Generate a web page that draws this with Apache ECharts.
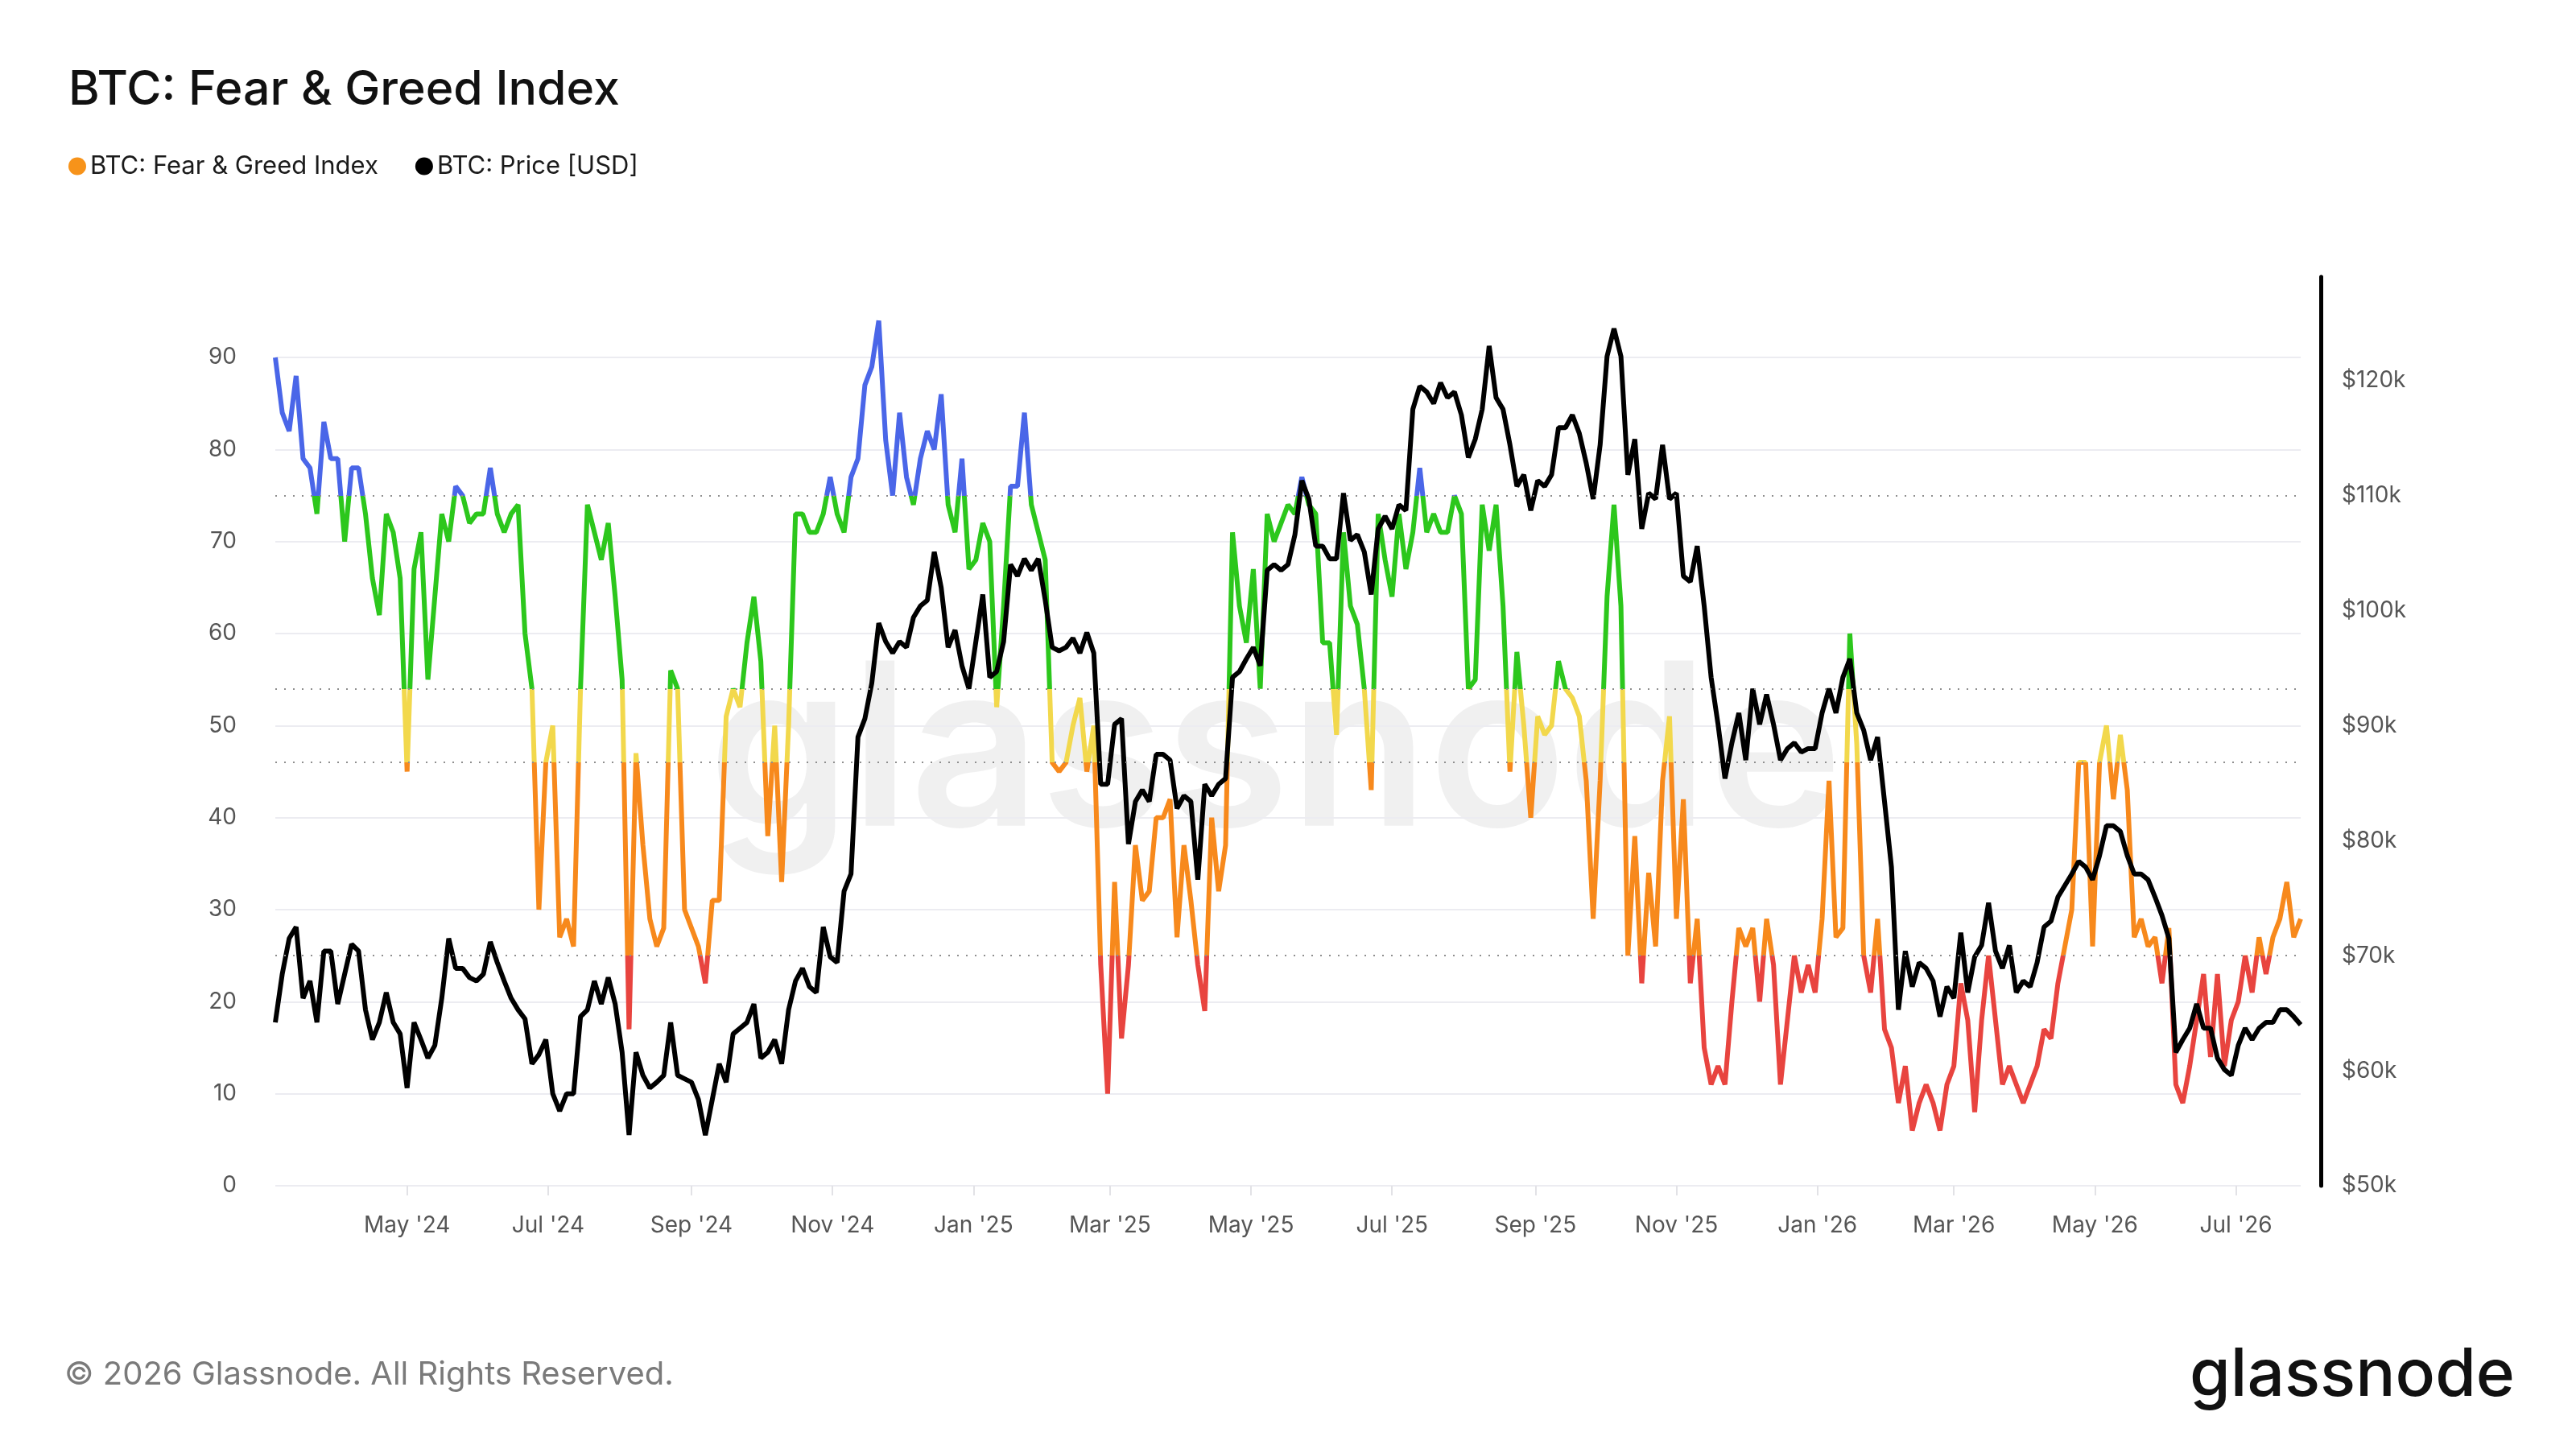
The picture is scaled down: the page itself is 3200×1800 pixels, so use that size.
<!DOCTYPE html>
<html>
<head>
<meta charset="utf-8">
<title>BTC: Fear & Greed Index</title>
<script src="https://cdn.jsdelivr.net/npm/echarts@6/dist/echarts.min.js"></script>
<style>
  html, body { margin: 0; padding: 0; background: #fff; }
  #chart { width: 3200px; height: 1800px; }
</style>
</head>
<body>
<div id="chart"></div>
<script>
// samples every 3 days starting 2024-03-05
const startDate = "2024-03-05";
const stepDays = 3;

// BTC Fear & Greed Index (0-100)
const fearGreed = [
  90, 84, 82, 88, 79, 78, 73, 83, 79, 79, 70, 78, 78, 73, 66, 62, 73, 71, 66, 45,
  67, 71, 55, 64, 73, 70, 76, 75, 72, 73, 73, 78, 73, 71, 73, 74, 60, 54, 30, 46,
  50, 27, 29, 26, 54, 74, 71, 68, 72, 64, 55, 17, 47, 37, 29, 26, 28, 56, 54, 30,
  28, 26, 22, 31, 31, 51, 54, 52, 59, 64, 57, 38, 50, 33, 50, 73, 73, 71, 71, 73,
  77, 73, 71, 77, 79, 87, 89, 94, 81, 75, 84, 77, 74, 79, 82, 80, 86, 74, 71, 79,
  67, 68, 72, 70, 52, 63, 76, 76, 84, 74, 71, 68, 46, 45, 46, 50, 53, 45, 50,
  24, 10, 33, 16, 24, 37, 31, 32, 40, 40, 42, 27, 37, 31, 24, 19, 40, 32, 37, 71,
  63, 59, 67, 54, 73, 70, 72, 74, 73, 77, 74, 73, 59, 59, 49, 71, 63, 61, 54, 43,
  73, 68, 64, 73, 67, 71, 78, 71, 73, 71, 71, 75, 73, 54, 55, 74, 69, 74,
  63, 45, 58, 50, 40, 51, 49, 50, 57, 54, 53, 51, 44, 29, 44, 64, 74, 63, 25, 38,
  22, 34, 26, 44, 51, 29, 42, 22, 29, 15, 11, 13, 11, 20, 28, 26, 28, 20, 29, 24,
  11, 18, 25, 21, 24, 21, 29, 44, 27, 28, 60, 48, 25, 21, 29, 17, 15, 9, 13, 6,
  9, 11, 9, 6, 11, 13, 22, 18, 8, 18, 25, 18, 11, 13, 11, 9, 11, 13, 17, 16,
  22, 26, 30, 46, 46, 26, 46, 50, 42, 49, 43, 27, 29, 26, 27, 22, 28, 11, 9, 13,
  18, 23, 14, 23, 13, 18, 20, 25, 21, 27, 23, 27, 29, 33, 27, 29
];

// BTC price, thousands of USD
const priceK = [
  64.2, 68.4, 71.5, 72.5, 66.3, 67.8, 64.2, 70.4, 70.4, 65.8, 68.4, 71.0, 70.4, 65.3, 62.7, 64.2, 66.8, 64.2, 63.2, 58.5,
  64.2, 62.7, 61.1, 62.2, 66.3, 71.5, 68.9, 68.9, 68.1, 67.8, 68.4, 71.2, 69.4, 67.8, 66.3, 65.3, 64.5, 60.6, 61.4, 62.7,
  58.0, 56.5, 58.0, 58.0, 64.7, 65.3, 67.8, 65.8, 68.1, 65.8, 61.6, 54.4, 61.6, 59.6, 58.5, 59.0, 59.6, 64.2, 59.6, 59.3,
  59.0, 57.5, 54.4, 57.5, 60.6, 59.0, 63.2, 63.7, 64.2, 65.8, 61.1, 61.6, 62.7, 60.6, 65.3, 67.8, 68.9, 67.3, 66.8, 72.5,
  69.9, 69.4, 75.6, 77.1, 89.0, 90.6, 93.7, 98.9, 97.3, 96.3, 97.3, 96.8, 99.4, 100.4, 100.9, 105.1, 102.0, 96.8, 98.3, 95.2,
  93.2, 97.3, 101.4, 94.2, 94.7, 97.3, 104.0, 103.0, 104.5, 103.5, 104.5, 100.9, 96.8, 96.5, 96.8, 97.6, 96.3, 98.1, 96.3,
  84.9, 84.9, 90.1, 90.6, 79.7, 83.4, 84.4, 83.4, 87.5, 87.5, 87.0, 82.8, 83.9, 83.4, 76.6, 84.9, 83.9, 84.9, 85.4, 94.2,
  94.7, 95.8, 96.8, 95.2, 103.5, 104.0, 103.5, 104.0, 106.6, 111.3, 109.7, 105.6, 105.6, 104.5, 104.5, 110.2, 106.1, 106.6, 105.1, 101.4,
  107.1, 108.2, 107.1, 109.2, 108.7, 117.5, 119.5, 119.0, 118.0, 119.8, 118.5, 119.0, 117.0, 113.3, 114.9, 117.5, 123.0, 118.5,
  117.5, 114.4, 110.8, 111.8, 108.7, 111.3, 110.8, 111.8, 115.9, 115.9, 117.0, 115.4, 112.8, 109.7, 114.4, 122.1, 124.5, 122.1, 111.8, 114.9,
  107.1, 110.2, 109.7, 114.4, 109.7, 110.2, 103.0, 102.5, 105.6, 100.4, 94.2, 90.1, 85.4, 88.5, 91.1, 87.0, 93.2, 90.1, 92.7, 90.1,
  87.0, 88.0, 88.5, 87.7, 88.0, 88.0, 91.1, 93.2, 91.1, 94.2, 95.8, 91.1, 89.6, 87.0, 89.0, 83.4, 77.7, 65.3, 70.4, 67.3,
  69.4, 68.9, 67.8, 64.7, 67.3, 66.3, 72.0, 66.8, 69.9, 70.9, 74.6, 70.4, 68.9, 70.9, 66.8, 67.8, 67.3, 69.4, 72.5, 73.0,
  75.1, 76.1, 77.1, 78.2, 77.7, 76.6, 78.7, 81.3, 81.3, 80.8, 78.7, 77.1, 77.1, 76.6, 75.1, 73.5, 71.5, 61.6, 62.7, 63.7,
  65.8, 63.7, 63.7, 61.1, 60.1, 59.6, 62.2, 63.7, 62.7, 63.7, 64.2, 64.2, 65.3, 65.3, 64.7, 64.0
];

// x-axis tick labels (month starts)
const monthTicks = [
  "2024-05-01", "2024-07-01", "2024-09-01", "2024-11-01",
  "2025-01-01", "2025-03-01", "2025-05-01", "2025-07-01",
  "2025-09-01", "2025-11-01", "2026-01-01", "2026-03-01",
  "2026-05-01", "2026-07-01"
];
const monthNames = ["Jan", "Feb", "Mar", "Apr", "May", "Jun", "Jul", "Aug", "Sep", "Oct", "Nov", "Dec"];

// sentiment zone boundaries (dotted lines)
const zoneLines = [25, 46, 54, 75];
const zoneColors = {
  extremeFear: "#e8443f",
  fear: "#f7891c",
  neutral: "#f2d84c",
  greed: "#2cc71c",
  extremeGreed: "#4a66e8",
};

const DAY = 86400000;
const t0 = Date.parse(startDate);
const dates = fearGreed.map((_, i) => t0 + i * stepDays * DAY);
const fgData = dates.map((t, i) => [t, fearGreed[i]]);
const priceData = dates.map((t, i) => [t, priceK[i]]);
const tickValues = monthTicks.map((s) => Date.parse(s));

const FONT = "Inter, 'Noto Sans', sans-serif";
const chart = echarts.init(document.getElementById("chart"));

const gridColor = "#ececf1";
// 10 gridlines plus the extent end tick at the top (hidden)
const splitColors = [];
for (let i = 0; i < 10; i++) splitColors.push(gridColor);
splitColors.push("rgba(0,0,0,0)");

const option = {
  animation: false,
  backgroundColor: "#ffffff",
  title: {
    text: "BTC: Fear & Greed Index",
    left: 80,
    top: 78,
    textStyle: {
      fontFamily: FONT,
      fontSize: 59,
      fontWeight: 500,
      color: "#111111",
    },
  },
  legend: {
    left: 80,
    top: 186,
    icon: "circle",
    itemWidth: 22,
    itemHeight: 22,
    itemGap: 46,
    textStyle: {
      fontFamily: FONT,
      fontSize: 31,
      color: "#1a1a1a",
    },
    data: [
      { name: "BTC: Fear & Greed Index", itemStyle: { color: "#f7931a" } },
      { name: "BTC: Price [USD]", itemStyle: { color: "#000000" } },
    ],
  },
  graphic: [
    {
      type: "text",
      left: 880,
      top: 800,
      z: -10,
      silent: true,
      style: {
        text: "glassnode",
        fontFamily: FONT,
        fontSize: 282,
        fontWeight: 600,
        fill: "rgba(0,0,0,0.06)",
      },
    },
    {
      type: "text",
      left: 80,
      top: 1688,
      style: {
        text: "© 2026 Glassnode. All Rights Reserved.",
        fontFamily: FONT,
        fontSize: 40,
        fill: "#7a7a7a",
      },
    },
    {
      type: "text",
      right: 76,
      top: 1668,
      style: {
        text: "glassnode",
        fontFamily: FONT,
        fontSize: 82,
        fontWeight: 500,
        fill: "#111111",
      },
    },
  ],
  visualMap: {
    show: false,
    type: "piecewise",
    seriesIndex: 0,
    dimension: 1,
    pieces: [
      { lt: 25, color: zoneColors.extremeFear },
      { gte: 25, lt: 46, color: zoneColors.fear },
      { gte: 46, lt: 54, color: zoneColors.neutral },
      { gte: 54, lt: 75, color: zoneColors.greed },
      { gte: 75, color: zoneColors.extremeGreed },
    ],
  },
  grid: {
    left: 342,
    right: 342,
    top: 344,
    bottom: 327,
  },
  xAxis: {
    type: "value",
    min: dates[0],
    max: dates[dates.length - 1],
    axisLine: { show: false },
    splitLine: { show: false },
    axisTick: {
      show: true,
      customValues: tickValues,
      length: 12,
      lineStyle: { color: "#e2e2e6", width: 2 },
    },
    axisLabel: {
      customValues: tickValues,
      margin: 36,
      fontFamily: FONT,
      fontSize: 28,
      color: "#555555",
      formatter: function (value) {
        const d = new Date(value);
        return monthNames[d.getUTCMonth()] + " '" + String(d.getUTCFullYear()).slice(2);
      },
    },
  },
  yAxis: [
    {
      type: "value",
      position: "left",
      min: 0,
      max: 98.75,
      interval: 10,
      axisLine: { show: false },
      axisTick: { show: false },
      axisLabel: {
        margin: 48,
        fontFamily: FONT,
        fontSize: 28,
        color: "#555555",
        formatter: function (v) {
          return v % 10 === 0 ? String(v) : "";
        },
      },
      splitLine: {
        show: true,
        lineStyle: { color: splitColors, width: 2 },
      },
    },
    {
      type: "value",
      position: "right",
      min: 50,
      max: 129,
      interval: 10,
      offset: 25,
      axisLine: { show: true, lineStyle: { color: "#000000", width: 5 } },
      axisTick: { show: false },
      axisLabel: {
        margin: 26,
        fontFamily: FONT,
        fontSize: 28,
        color: "#555555",
        formatter: function (v) {
          return v % 10 === 0 ? "$" + v + "k" : "";
        },
      },
      splitLine: { show: false },
    },
  ],
  series: [
    {
      name: "BTC: Fear & Greed Index",
      type: "line",
      yAxisIndex: 0,
      data: fgData,
      showSymbol: false,
      symbol: "none",
      itemStyle: { color: "#f7931a" },
      lineStyle: { width: 6 },
      z: 2,
      markLine: {
        silent: true,
        symbol: "none",
        label: { show: false },
        lineStyle: { color: "#8f8f8f", width: 2, type: [2, 9] },
        data: zoneLines.map((v) => ({ yAxis: v })),
      },
    },
    {
      name: "BTC: Price [USD]",
      type: "line",
      yAxisIndex: 1,
      data: priceData,
      showSymbol: false,
      symbol: "none",
      itemStyle: { color: "#000000" },
      lineStyle: { width: 6, color: "#000000" },
      z: 3,
    },
  ],
};

chart.setOption(option);
window.addEventListener("resize", function () {
  chart.resize();
});
</script>
</body>
</html>
